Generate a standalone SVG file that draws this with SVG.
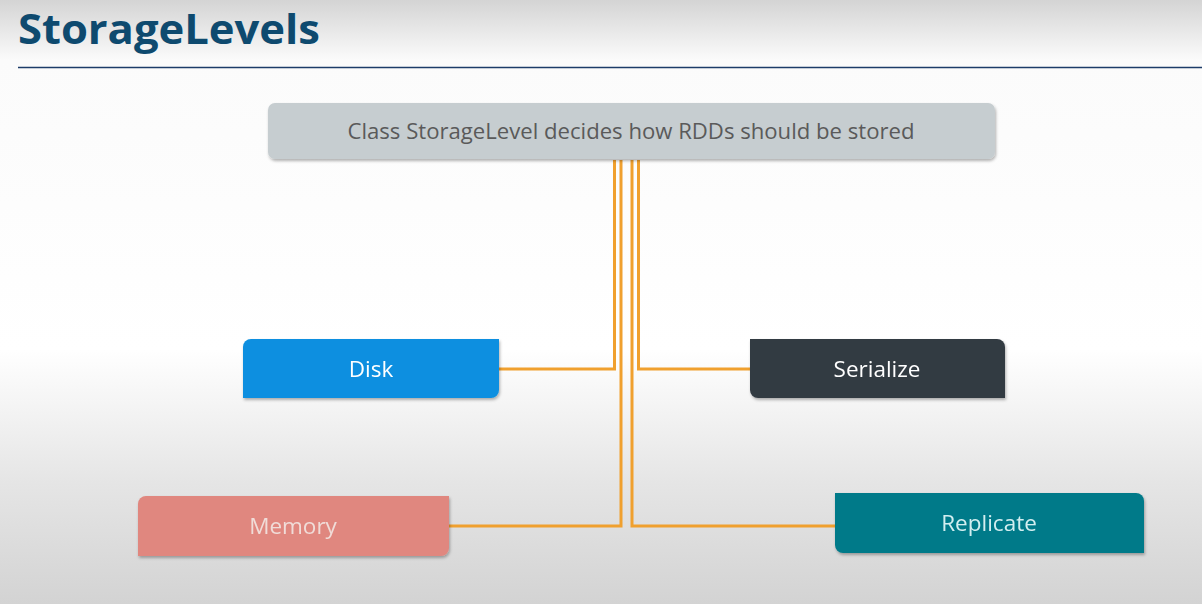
<svg xmlns="http://www.w3.org/2000/svg" width="1202" height="604" viewBox="0 0 1202 604">
<defs>
<linearGradient id="bg" x1="0" y1="0" x2="0" y2="1">
<stop offset="0" stop-color="#d4d4d4"/>
<stop offset="0.1" stop-color="#fbfbfb"/>
<stop offset="0.58" stop-color="#ffffff"/>
<stop offset="0.8" stop-color="#e5e5e5"/>
<stop offset="1" stop-color="#d3d3d3"/>
</linearGradient>
<filter id="sh" x="-5%" y="-20%" width="110%" height="150%">
<feDropShadow dx="1" dy="2" stdDeviation="1.5" flood-color="#000" flood-opacity="0.3"/>
</filter>
<style>
.lbl{font-family:"Open Sans","Noto Sans","Liberation Sans",sans-serif;font-size:22.5px;text-anchor:middle}
.conn{fill:none;stroke:#f0a02e;stroke-width:3}
</style>
</defs>
<rect width="1202" height="604" fill="url(#bg)"/>
<text x="18" y="44" font-family="'Open Sans','Liberation Sans',sans-serif" font-weight="bold" font-size="42" fill="#0e4a6f" textLength="302" lengthAdjust="spacingAndGlyphs">StorageLevels</text>
<line x1="18" y1="67.5" x2="1202" y2="67.5" stroke="#1d3c69" stroke-width="1.5"/>
<g id="connectors">
<path class="conn" d="M499 369H614.5V160"/>
<path class="conn" d="M750 369H638.5V160"/>
<path class="conn" d="M449 526H621V160"/>
<path class="conn" d="M835 526H632V160"/>
</g>
<g id="root">
<rect x="268" y="103" width="727" height="56" rx="7" fill="#c6cdd0" filter="url(#sh)"/>
<text class="lbl" x="631" y="139" fill="#5a5a5a" textLength="567" lengthAdjust="spacingAndGlyphs">Class StorageLevel decides how RDDs should be stored</text>
</g>
<g id="disk" filter="url(#sh)">
<path d="M251 339H499V390a8 8 0 0 1-8 8H243V347a8 8 0 0 1 8-8Z" fill="#0a8fe0"/>
<text class="lbl" x="371" y="377" fill="#ffffff">Disk</text>
</g>
<g id="serialize" filter="url(#sh)">
<path d="M750 339H997a8 8 0 0 1 8 8V398H758a8 8 0 0 1-8-8Z" fill="#333b43"/>
<text class="lbl" x="877" y="377" fill="#ffffff">Serialize</text>
</g>
<g id="memory" filter="url(#sh)">
<path d="M146 496H449V548a8 8 0 0 1-8 8H138V504a8 8 0 0 1 8-8Z" fill="#e0877f"/>
<text class="lbl" x="293" y="534" fill="#f0dcd8">Memory</text>
</g>
<g id="replicate" filter="url(#sh)">
<path d="M835 493H1136a8 8 0 0 1 8 8V553H843a8 8 0 0 1-8-8Z" fill="#007a89"/>
<text class="lbl" x="989" y="531" fill="#d2eef0">Replicate</text>
</g>
</svg>
